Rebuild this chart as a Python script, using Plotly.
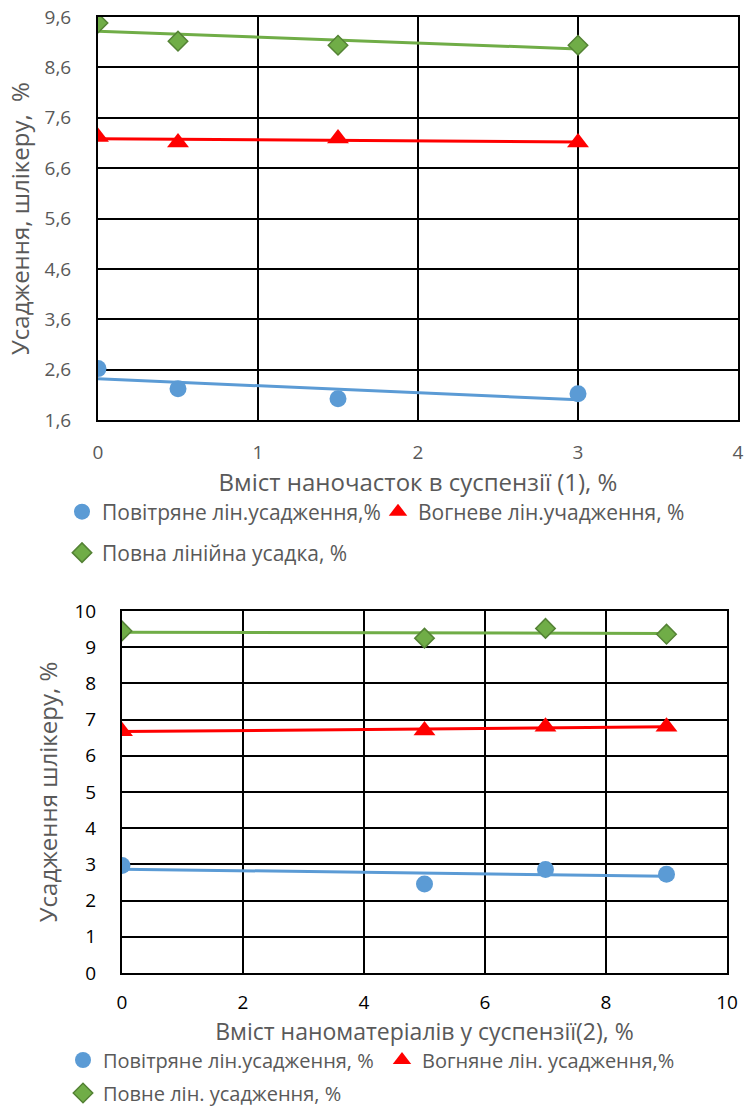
import numpy as np
import plotly.graph_objects as go

# ---------------- data: chart 1 ----------------
x1 = [0, 0.5, 1.5, 3]
air1 = [2.62, 2.22, 2.02, 2.12]
fire1 = [7.22, 7.11, 7.19, 7.11]
total1 = [9.48, 9.12, 9.04, 9.04]
names1 = ["Повітряне лін.усадження,%", "Вогневе лін.учадження, %", "Повна лінійна усадка, %"]
xtitle1 = "Вміст наночасток в суспензії (1), %"
ytitle1 = "Усадження, шлікеру,\u00a0 %"

# ---------------- data: chart 2 ----------------
x2 = [0, 5, 7, 9]
air2 = [2.97, 2.46, 2.86, 2.73]
fire2 = [6.68, 6.70, 6.80, 6.80]
total2 = [9.45, 9.25, 9.52, 9.36]
names2 = ["Повітряне лін.усадження, %", "Вогняне лін. усадження,%", "Повне лін. усадження, %"]
xtitle2 = "Вміст наноматеріалів у суспензії(2), %"
ytitle2 = "Усадження шлікеру, %"

BLUE = "#5B9BD5"
RED = "#FF0000"
GREEN = "#70AD47"
GREEN_DARK = "#548235"
GRAY = "#595959"
FONT = "Open Sans"

W, H = 745, 1108

fig = go.Figure()

def trend(x, y):
    k, b = np.polyfit(x, y, 1)
    xs = np.array([min(x), max(x)])
    return xs, k * xs + b

series_style = [
    dict(symbol="circle", size=17, color=BLUE, line=dict(width=0)),
    dict(symbol="triangle-up", size=19, color=RED, line=dict(width=0)),
    dict(symbol="diamond", size=15, color=GREEN, line=dict(width=1.5, color=GREEN_DARK)),
]
line_colors = [BLUE, RED, GREEN]

def add_chart(xv, ys, names, xa, ya, legends):
    for y, nm, st, lc, lg in zip(ys, names, series_style, line_colors, legends):
        tx, ty = trend(xv, y)
        fig.add_trace(go.Scatter(x=tx, y=ty, mode="lines", line=dict(color=lc, width=3),
                                 showlegend=False, hoverinfo="skip", xaxis=xa, yaxis=ya))
        fig.add_trace(go.Scatter(x=xv, y=y, mode="markers", name=nm, marker=st,
                                 xaxis=xa, yaxis=ya, legend=lg))

add_chart(x1, [air1, fire1, total1], names1, "x", "y", ["legend", "legend2", "legend3"])
add_chart(x2, [air2, fire2, total2], names2, "x2", "y2", ["legend4", "legend5", "legend6"])

def px_x(p):
    return p / W

def px_y(p):
    return 1 - p / H

axis_common = dict(showgrid=True, gridcolor="black", gridwidth=2, showline=True,
                   linecolor="black", linewidth=2, mirror=True, zeroline=False, ticks="",
                   automargin=False)

def leg(x, y, size):
    return dict(x=px_x(x), y=px_y(y), xanchor="left", yanchor="middle", orientation="h",
                font=dict(family=FONT, size=size, color=GRAY), bgcolor="rgba(0,0,0,0)",
                borderwidth=0, itemclick=False, itemdoubleclick=False)

TITLE = 24

fig.update_layout(
    width=W, height=H, autosize=False,
    margin=dict(l=0, r=0, t=0, b=0, autoexpand=False),
    paper_bgcolor="white", plot_bgcolor="white",
    separators=", ",
    font=dict(family=FONT, color=GRAY),
    xaxis=dict(domain=[px_x(98), px_x(738)], range=[0, 4], dtick=1, tick0=0,
               tickfont=dict(family=FONT, size=19, color=GRAY), ticklabelstandoff=14,
               title=dict(text=xtitle1, font=dict(family=FONT, size=TITLE, color=GRAY), standoff=2),
               anchor="y", **axis_common),
    yaxis=dict(domain=[px_y(420), px_y(17)], range=[1.6, 9.6], dtick=1, tick0=1.6, tickformat=".1f",
               tickfont=dict(family=FONT, size=19, color=GRAY), ticklabelstandoff=21,
               title=dict(text=ytitle1, font=dict(family=FONT, size=TITLE, color=GRAY), standoff=8),
               anchor="x", **axis_common),
    xaxis2=dict(domain=[px_x(122), px_x(727)], range=[0, 10], dtick=2, tick0=0,
                tickfont=dict(family=FONT, size=19, color="black"), ticklabelstandoff=11,
                title=dict(text=xtitle2, font=dict(family=FONT, size=23, color=GRAY), standoff=0),
                anchor="y2", **axis_common),
    yaxis2=dict(domain=[px_y(973), px_y(611)], range=[0, 10], dtick=1, tick0=0,
                tickfont=dict(family=FONT, size=19, color="black"), ticklabelstandoff=20,
                title=dict(text=ytitle2, font=dict(family=FONT, size=TITLE, color=GRAY), standoff=10),
                anchor="x2", **axis_common),
    legend=leg(62, 512, 21),
    legend2=leg(378, 512, 21),
    legend3=leg(62, 553, 21),
    legend4=leg(63, 1060, 20),
    legend5=leg(382, 1060, 20),
    legend6=leg(63, 1093, 20),
)

fig.write_html("out.html", config={"displayModeBar": False},
               post_script="document.body.style.margin='0px';")
